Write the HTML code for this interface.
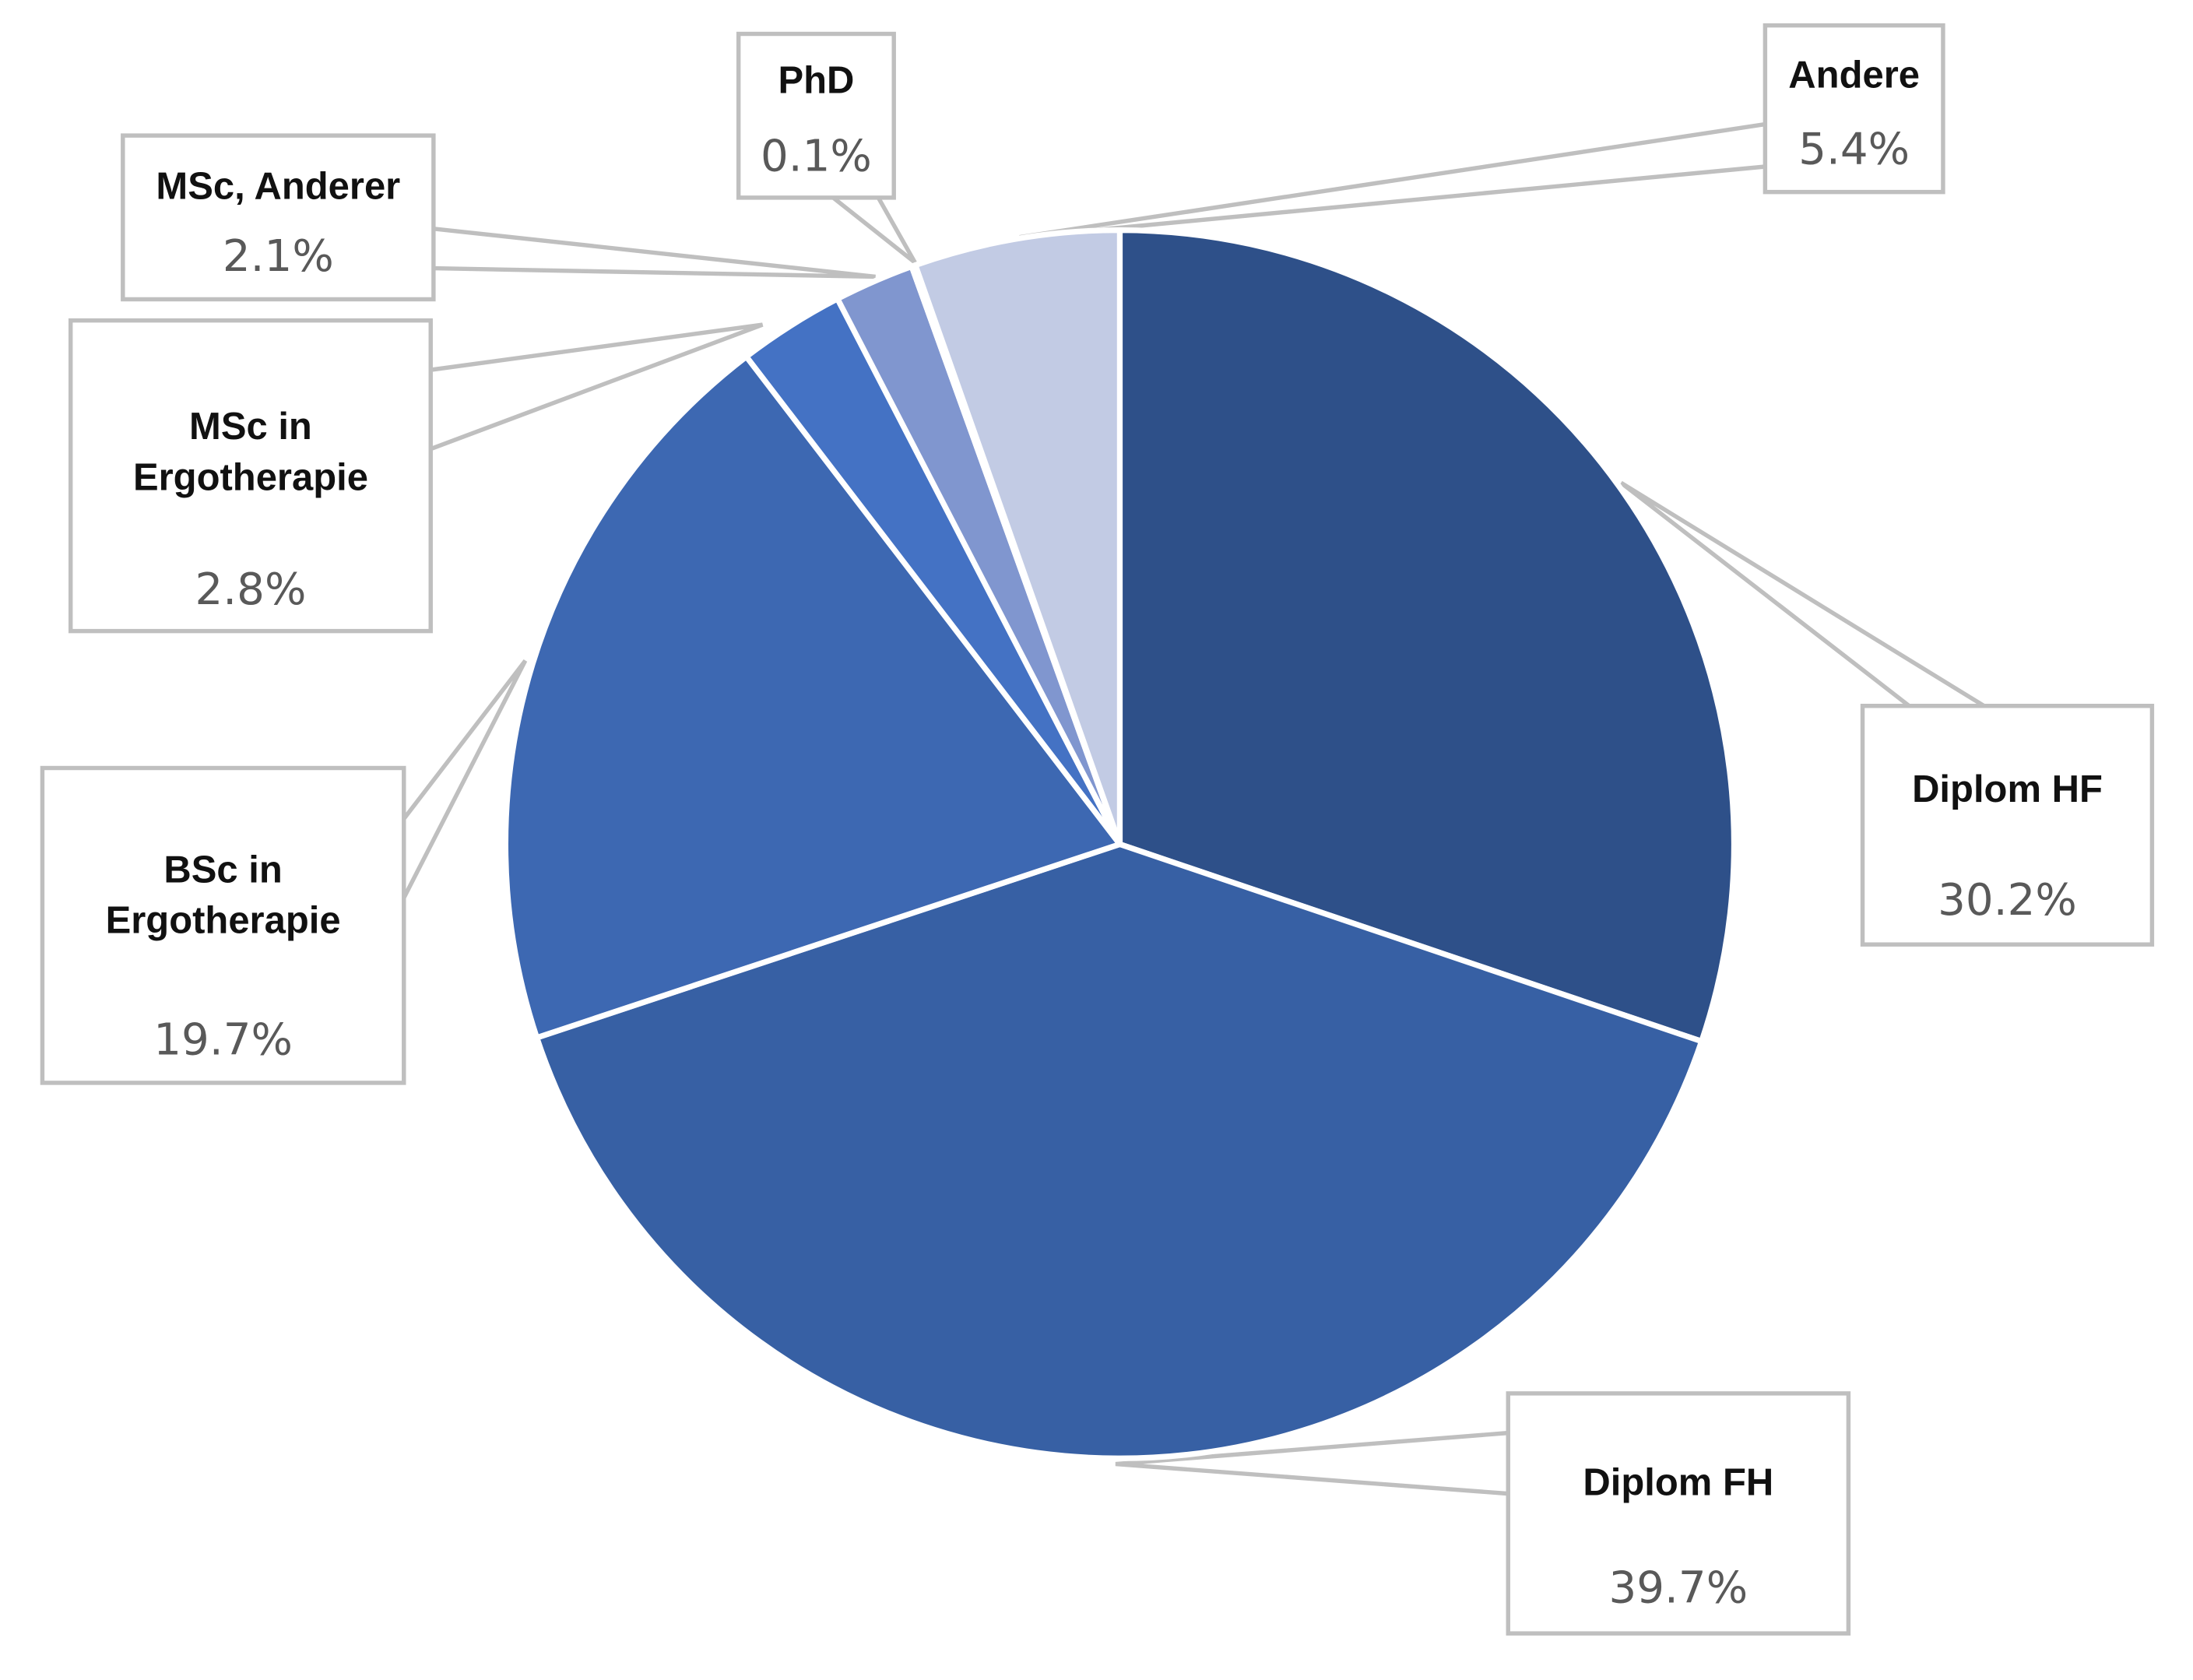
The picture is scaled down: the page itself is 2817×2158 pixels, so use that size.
<!DOCTYPE html>
<html><head><meta charset="utf-8"><style>
html,body{margin:0;padding:0;background:#fff;}
svg{display:block;}
.lb{font-family:"Liberation Sans",sans-serif;font-weight:bold;font-size:27px;fill:#111;text-anchor:middle;}
.pc{font-family:"DejaVu Sans","Liberation Sans",sans-serif;font-size:31px;fill:#595959;text-anchor:middle;}
</style></head><body>
<svg id="chart" width="2817" height="2158" viewBox="0 0 1553 1190" preserveAspectRatio="none" xmlns="http://www.w3.org/2000/svg">
<g id="callouts"></g>
<g id="slices"></g>
<g id="labels"></g>
</svg>
<script>
const categories = ["Diplom HF","Diplom FH","BSc in Ergotherapie","MSc in Ergotherapie","MSc, Anderer","PhD","Andere"];
const values = [30.2,39.7,19.7,2.8,2.1,0.1,5.4];
const valueLabels = ["30.2%","39.7%","19.7%","2.8%","2.1%","0.1%","5.4%"];
const colors = ["#2e5089","#3760a4","#3d68b2","#4472c4","#8096cf","#a9b6dd","#c2cbe4"];
// label layout (presentation)
const boxes = [
 {x:1319,y:500,w:205,h:169,lines:["Diplom HF"],ly:[559],py:637,poly:[[1352,500],[1148,342],[1405,500]]},
 {x:1068,y:987,w:241,h:170,lines:["Diplom FH"],ly:[1050],py:1124,poly:[[1068,1015],[790,1037],[1068,1058]]},
 {x:30,y:544,w:256,h:223,lines:["BSc in","Ergotherapie"],ly:[616,652],py:736,poly:[[286,580],[372,468],[286,636]]},
 {x:50,y:227,w:255,h:220,lines:["MSc in","Ergotherapie"],ly:[302,338],py:417,poly:[[305,262],[540,230],[305,318]]},
 {x:87,y:96,w:220,h:116,lines:["MSc, Anderer"],ly:[132],py:181,poly:[[307,162],[620,196],[307,190]]},
 {x:523,y:24,w:110,h:116,lines:["PhD"],ly:[57],py:110,poly:[[590,140],[648,186],[622,140]]},
 {x:1250,y:18,w:126,h:118,lines:["Andere"],ly:[53],py:105,poly:[[1250,88],[722,168],[1250,118]]}
];
const NS="http://www.w3.org/2000/svg";
const cx=793, cy=598, r=435;
const total=values.reduce((a,b)=>a+b,0);
function pt(a){return [cx+r*Math.sin(a), cy-r*Math.cos(a)];}
const sg=document.getElementById('slices');
let a0=0;
values.forEach((v,i)=>{
  const a1=a0+v/total*2*Math.PI;
  const p0=pt(a0), p1=pt(a1);
  const large=(a1-a0)>Math.PI?1:0;
  const p=document.createElementNS(NS,'path');
  p.setAttribute('d',`M${cx},${cy} L${p0[0]},${p0[1]} A${r},${r} 0 ${large} 1 ${p1[0]},${p1[1]} Z`);
  p.setAttribute('fill',colors[i]);
  p.setAttribute('stroke','#fff');
  p.setAttribute('stroke-width','4');
  p.setAttribute('stroke-linejoin','round');
  
  
  sg.appendChild(p);
  a0=a1;
});
const cg=document.getElementById('callouts');
const lg=document.getElementById('labels');
boxes.forEach((b,i)=>{
  const slug=categories[i].toLowerCase().replace(/[^a-z0-9]+/g,'-');
  const pl=document.createElementNS(NS,'polyline');
  pl.setAttribute('points',b.poly.map(q=>q.join(',')).join(' '));
  pl.setAttribute('fill','none');
  pl.setAttribute('stroke','#bfbfbf');
  pl.setAttribute('stroke-width','3');
  
  
  cg.appendChild(pl);
  const g=document.createElementNS(NS,'g');
  
  
  const rc=document.createElementNS(NS,'rect');
  rc.setAttribute('x',b.x);rc.setAttribute('y',b.y);rc.setAttribute('width',b.w);rc.setAttribute('height',b.h);
  rc.setAttribute('fill','#fff');rc.setAttribute('stroke','#bfbfbf');rc.setAttribute('stroke-width','3');
  
  
  g.appendChild(rc);
  const mx=b.x+b.w/2;
  b.lines.forEach((t,j)=>{
    const tx=document.createElementNS(NS,'text');
    tx.setAttribute('x',mx);tx.setAttribute('y',b.ly[j]+9);tx.setAttribute('class','lb');
    tx.textContent=t;
    
    
    g.appendChild(tx);
  });
  const pv=document.createElementNS(NS,'text');
  pv.setAttribute('x',mx);pv.setAttribute('y',b.py+11);pv.setAttribute('class','pc');
  pv.textContent=valueLabels[i];
  
  
  g.appendChild(pv);
  lg.appendChild(g);
});
</script>
</body></html>
